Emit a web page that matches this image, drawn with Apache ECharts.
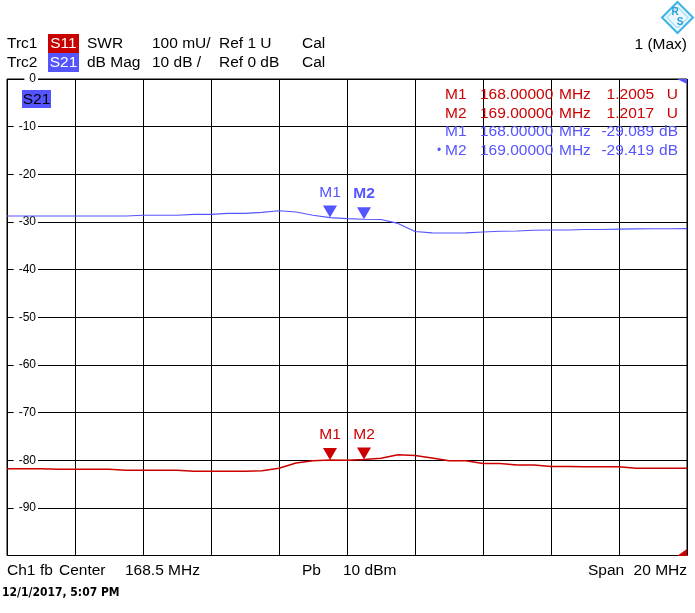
<!DOCTYPE html>
<html><head><meta charset="utf-8">
<script src="https://cdn.jsdelivr.net/npm/echarts@6/dist/echarts.min.js"></script>
<style>html,body{margin:0;padding:0;background:#fff}#c{width:695px;height:613px}</style>
</head><body><div id="c"></div>
<script>
// ---- data ----
const freqMHz = [158.5,159,159.5,160,160.5,161,161.5,162,162.5,163,163.5,164,164.5,165,165.5,166,166.5,167,167.5,168,168.5,169,169.5,170,170.5,171,171.5,172,172.5,173,173.5,174,174.5,175,175.5,176,176.5,177,177.5,178,178.5];
const s21dB = [-28.75,-28.75,-28.75,-28.75,-28.75,-28.75,-28.75,-28.75,-28.6,-28.6,-28.6,-28.4,-28.4,-28.2,-28.2,-28.0,-27.65,-27.9,-28.6,-29.09,-29.3,-29.42,-29.5,-30.3,-32.0,-32.3,-32.32,-32.3,-32.1,-31.96,-31.9,-31.75,-31.7,-31.68,-31.6,-31.6,-31.5,-31.45,-31.42,-31.42,-31.4];
const s11SWR = [1.182,1.182,1.182,1.181,1.181,1.181,1.181,1.179,1.179,1.179,1.179,1.177,1.177,1.177,1.177,1.178,1.183,1.194,1.199,1.2005,1.200,1.2017,1.204,1.2115,1.210,1.2046,1.199,1.199,1.193,1.193,1.190,1.190,1.187,1.187,1.186,1.186,1.186,1.183,1.183,1.183,1.183];
const dbTickLabels = ['0','-10','-20','-30','-40','-50','-60','-70','-80','-90'];
const markerNames = ['M1','M2'];
const markerFreqMHz = [168, 169];
const s11MarkerVal = [1.2005, 1.2017];
const s21MarkerVal = [-29.089, -29.419];
const centerMHz = 168.5, spanMHz = 20;
const startMHz = centerMHz - spanMHz/2;

// ---- styling ----
const FONT = '"Liberation Sans", Arial, sans-serif';
const RED = '#cc0000', BLUE = '#5555ff';
function txt(text, x, y, o) {
  o = o || {};
  return {type:'text', x:x, y:y, silent:true, z:100,
    style:{text:text, fill:o.fill||'#000', font:(o.weight||'normal')+' '+(o.size||15.5)+'px '+(o.family||FONT),
      align:o.align||'left', verticalAlign:'middle'}};
}
const off = f => f - startMHz;

const graphic = [];
// header
graphic.push(txt('Trc1',7,44), txt('SWR',87,44), txt('100 mU/',152,44), txt('Ref 1 U',219,44), txt('Cal',302,44));
graphic.push(txt('Trc2',7,63), txt('dB Mag',87,63), txt('10 dB /',152,63), txt('Ref 0 dB',219,63), txt('Cal',302,63));
graphic.push({type:'rect', z:90, shape:{x:48,y:34,width:31,height:19}, style:{fill:'#c80000'}});
graphic.push({type:'rect', z:90, shape:{x:48,y:53,width:31,height:19}, style:{fill:BLUE}});
graphic.push(txt('S11',63.5,44,{fill:'#fff',align:'center'}), txt('S21',63.5,63,{fill:'#fff',align:'center'}));
graphic.push(txt('1 (Max)',687,45,{align:'right'}));
// logo
graphic.push({type:'polygon', z:90, shape:{points:[[677.5,2],[693,17.5],[677.5,33],[662,17.5]]}, style:{fill:'#eaf7fd', stroke:'#3db2e6', lineWidth:2}});
graphic.push({type:'polygon', z:91, shape:{points:[[677.5,7],[688,17.5],[677.5,28],[667,17.5]]}, style:{fill:'none', stroke:'#7fcdf0', lineWidth:1}});
graphic.push(txt('R',675,12.5,{fill:'#2a9fd8',size:10,weight:'bold',align:'center'}), txt('S',680,22.5,{fill:'#2a9fd8',size:10,weight:'bold',align:'center'}));
// S21 tag inside plot
graphic.push({type:'rect', z:90, shape:{x:22,y:90,width:29,height:18}, style:{fill:BLUE}});
graphic.push(txt('S21',36.5,99.5,{align:'center'}));
// marker table
const rowsY = [95, 113.5, 132, 150.5];
markerNames.forEach((m,i) => {
  const y = rowsY[i];
  graphic.push(txt(m,445,y,{fill:RED}), txt(markerFreqMHz[i].toFixed(5),480,y,{fill:RED}), txt('MHz',559,y,{fill:RED}),
    txt(s11MarkerVal[i].toFixed(4),654,y,{fill:RED,align:'right'}), txt('U',678,y,{fill:RED,align:'right'}));
});
markerNames.forEach((m,i) => {
  const y = rowsY[i+2];
  graphic.push(txt(m,445,y,{fill:BLUE}), txt(markerFreqMHz[i].toFixed(5),480,y,{fill:BLUE}), txt('MHz',559,y,{fill:BLUE}),
    txt(s21MarkerVal[i].toFixed(3),654,y,{fill:BLUE,align:'right'}), txt('dB',678,y,{fill:BLUE,align:'right'}));
});
graphic.push(txt('\u2022',437,150.5,{fill:BLUE,size:12}));
// corner flags
graphic.push({type:'polygon', z:90, shape:{points:[[677,79],[687,79],[687,84]]}, style:{fill:BLUE}});
graphic.push({type:'polygon', z:90, shape:{points:[[687,549],[687,556],[677,556]]}, style:{fill:RED}});
// footer
graphic.push(txt('Ch1',7,571), txt('fb',40,571), txt('Center',59,571), txt(centerMHz+' MHz',125,571));
graphic.push(txt('Pb',302,571), txt('10 dBm',343,571));
graphic.push(txt('Span',588,571), txt(spanMHz+' MHz',687,571,{align:'right'}));
graphic.push(txt('12/1/2017, 5:07 PM',2,592.5,{weight:'bold',size:12,family:'"Liberation Sans Narrow","Arial Narrow","DejaVu Sans Condensed",sans-serif'}));

const triSym = 'path://M0,0L14,0L7,12Z';
function markerSeries(vals, yIdx, color, boldIdx) {
  return {type:'scatter', yAxisIndex:yIdx, z:5,
    symbol:triSym, symbolSize:[14,12], symbolKeepAspect:false, symbolOffset:[0,-6],
    itemStyle:{color:color, opacity:1},
    emphasis:{disabled:true},
    label:{show:true, position:'top', distance:5, color:color, fontSize:15.5, fontFamily:FONT,
      formatter: p => markerNames[p.dataIndex]},
    data: vals.map((v,i) => ({value:[off(markerFreqMHz[i]), v],
      label: (i===boldIdx) ? {fontWeight:'bold'} : {}}))
  };
}

const chart = echarts.init(document.getElementById('c'));
chart.setOption({
  animation:false,
  backgroundColor:'#fff',
  grid:{left:7, right:8, top:79, bottom:57.5, show:true, borderColor:'#000', borderWidth:1, backgroundColor:'transparent'},
  xAxis:{type:'value', min:0, max:spanMHz, interval:2,
    axisLine:{show:false}, axisTick:{show:false}, axisLabel:{show:false},
    splitLine:{show:true, lineStyle:{color:'#000', width:1}}},
  yAxis:[
    {type:'value', min:-100, max:0, interval:10, position:'left',
      axisLine:{show:false}, axisTick:{show:false},
      splitLine:{show:true, lineStyle:{color:'#000', width:1}},
      axisLabel:{show:true, inside:true, align:'right', margin:31, showMinLabel:false,
        fontSize:12, fontFamily:FONT, color:'#000', backgroundColor:'#fff', padding:[0,2,0,5],
        formatter: v => dbTickLabels[Math.round(-v/10)] || ''}},
    {type:'value', min:1, max:2, interval:0.1, position:'right',
      axisLine:{show:false}, axisTick:{show:false}, axisLabel:{show:false}, splitLine:{show:false}}
  ],
  series:[
    {type:'line', yAxisIndex:1, showSymbol:false, z:3, lineStyle:{color:RED, width:1.5},
      data: freqMHz.map((f,i) => [off(f), s11SWR[i]])},
    {type:'line', yAxisIndex:0, showSymbol:false, z:3, lineStyle:{color:BLUE, width:1.1},
      data: freqMHz.map((f,i) => [off(f), s21dB[i]])},
    markerSeries(s11MarkerVal, 1, RED, -1),
    markerSeries(s21MarkerVal, 0, BLUE, 1)
  ],
  graphic: graphic
});
</script>
</body></html>
